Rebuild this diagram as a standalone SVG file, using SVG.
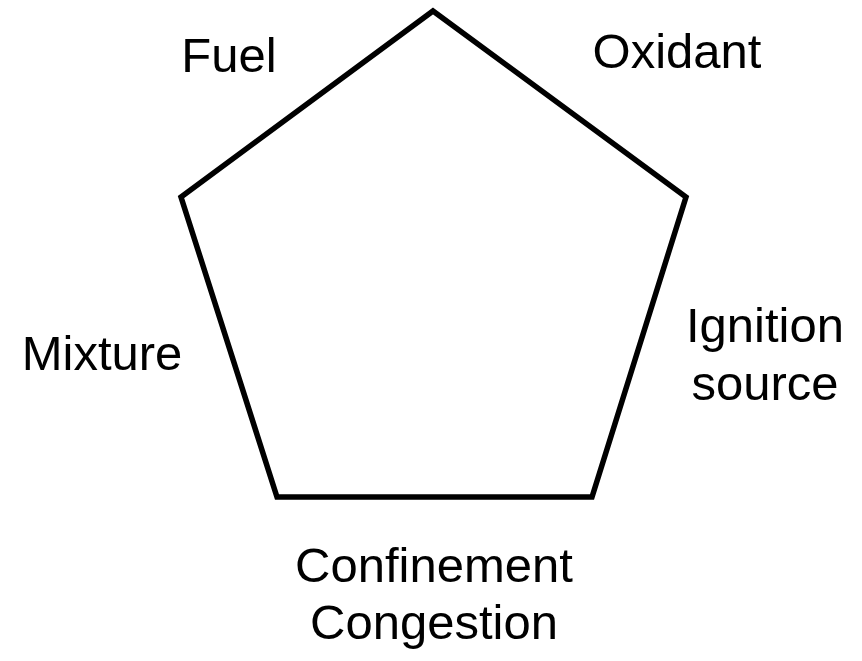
<svg xmlns="http://www.w3.org/2000/svg" width="862" height="661" viewBox="0 0 862 661">
<style>
.lbl{font-family:"Liberation Sans",Arial,sans-serif;font-size:49px;fill:#000;text-anchor:middle}
.shape{fill:none;stroke:#000;stroke-width:5.5;stroke-linejoin:miter}
</style>
<rect width="862" height="661" fill="#fff"/>
<g id="pentagon">
<polygon class="shape" points="433,11 686,197 592,497 277,497 181,197"/>
</g>
<g id="fuel"><text class="lbl" x="229" y="72">Fuel</text></g>
<g id="oxidant"><text class="lbl" x="677" y="68">Oxidant</text></g>
<g id="mixture"><text class="lbl" x="102" y="370">Mixture</text></g>
<g id="ignition"><text class="lbl" x="765" y="342">Ignition</text><text class="lbl" x="765" y="400">source</text></g>
<g id="confinement"><text class="lbl" x="434" y="582">Confinement</text><text class="lbl" x="434" y="639">Congestion</text></g>
</svg>
